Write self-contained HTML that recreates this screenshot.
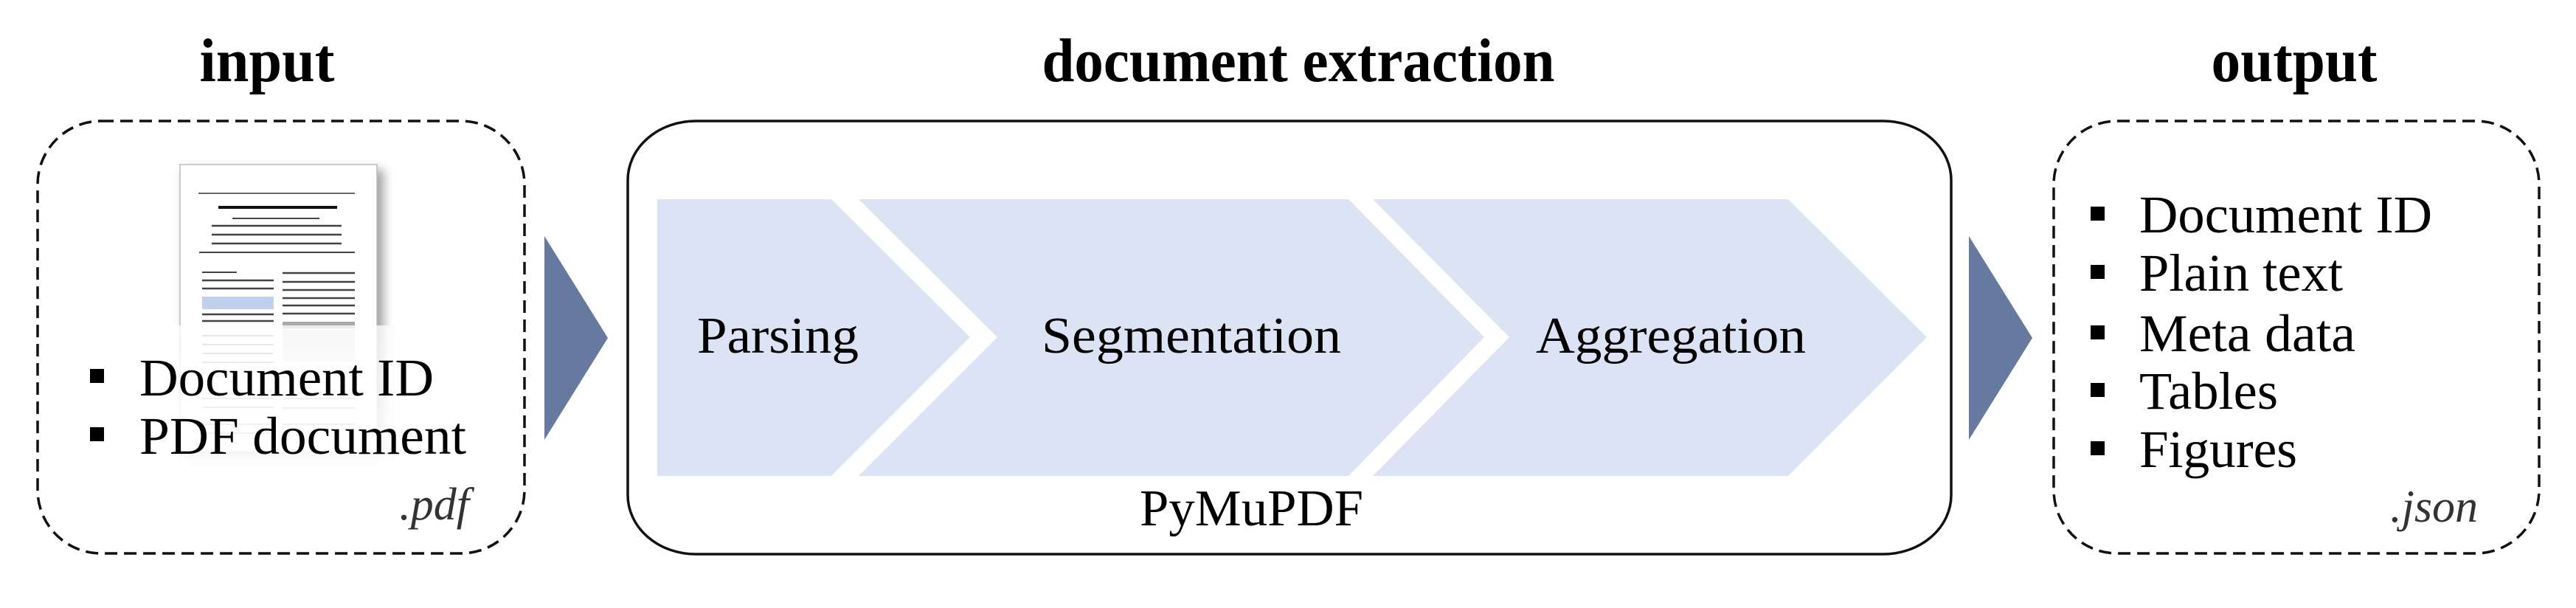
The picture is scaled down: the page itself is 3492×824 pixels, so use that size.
<!DOCTYPE html>
<html><head><meta charset="utf-8"><style>html,body{margin:0;padding:0;background:#fff}svg{display:block}</style></head>
<body>
<svg width="3492" height="824" viewBox="0 0 3492 824" xmlns="http://www.w3.org/2000/svg" font-family="'Liberation Serif', serif">
<defs>
<filter id="sh" x="-20%" y="-20%" width="150%" height="150%"><feGaussianBlur stdDeviation="7"/></filter>
<linearGradient id="fade" x1="0" y1="0" x2="0" y2="1"><stop offset="0" stop-color="#fff" stop-opacity="0.75"/><stop offset="1" stop-color="#fff" stop-opacity="0.92"/></linearGradient>
</defs>
<!-- titles -->
<text x="362" y="110" font-size="84" font-weight="bold" text-anchor="middle" textLength="183" lengthAdjust="spacingAndGlyphs">input</text>
<text x="1760" y="110" font-size="84" font-weight="bold" text-anchor="middle" textLength="695" lengthAdjust="spacingAndGlyphs">document extraction</text>
<text x="3110" y="110" font-size="84" font-weight="bold" text-anchor="middle" textLength="225" lengthAdjust="spacingAndGlyphs">output</text>

<!-- input box -->
<rect x="51" y="164" width="660" height="586" rx="86" ry="86" fill="none" stroke="#111" stroke-width="3.5" stroke-dasharray="17 9"/>
<!-- document icon -->
<rect x="250" y="230" width="270" height="390" fill="#888" filter="url(#sh)" opacity="0.8"/>
<rect x="244" y="223" width="267" height="389" fill="#fff" stroke="#bbb" stroke-width="1.5"/>
<g stroke="#444">
<line x1="269" y1="262" x2="481" y2="262" stroke-width="2" stroke="#666"/>
<line x1="296" y1="281" x2="457" y2="281" stroke-width="4" stroke="#111"/>
<line x1="315" y1="296" x2="433" y2="296" stroke-width="2"/>
<line x1="287" y1="306" x2="463" y2="306" stroke-width="2.5"/>
<line x1="287" y1="318" x2="463" y2="318" stroke-width="2.5"/>
<line x1="287" y1="330" x2="463" y2="330" stroke-width="2.5"/>
<line x1="270" y1="342" x2="481" y2="342" stroke-width="2"/>
<line x1="274" y1="369" x2="321" y2="369" stroke-width="2"/>
<line x1="274" y1="380" x2="371" y2="380" stroke-width="2.5"/>
<line x1="274" y1="391" x2="371" y2="391" stroke-width="2.5"/>
<line x1="274" y1="426" x2="371" y2="426" stroke-width="2.5"/>
<line x1="274" y1="435" x2="371" y2="435" stroke-width="2.5"/>
<line x1="383" y1="370" x2="481" y2="370" stroke-width="2.5"/>
<line x1="383" y1="382" x2="481" y2="382" stroke-width="2.5"/>
<line x1="383" y1="393" x2="481" y2="393" stroke-width="2.5"/>
<line x1="383" y1="404" x2="481" y2="404" stroke-width="2.5"/>
<line x1="383" y1="414" x2="481" y2="414" stroke-width="2.5"/>
<line x1="383" y1="425" x2="481" y2="425" stroke-width="2.5"/>
<g stroke="#999" stroke-width="2">
<line x1="274" y1="455" x2="371" y2="455"/><line x1="274" y1="467" x2="371" y2="467"/><line x1="274" y1="479" x2="371" y2="479"/><line x1="274" y1="491" x2="371" y2="491"/><line x1="274" y1="540" x2="371" y2="540"/><line x1="274" y1="552" x2="371" y2="552"/><line x1="274" y1="575" x2="371" y2="575"/><line x1="274" y1="587" x2="371" y2="587"/>
<line x1="383" y1="540" x2="481" y2="540"/><line x1="383" y1="553" x2="481" y2="553"/><line x1="383" y1="575" x2="481" y2="575"/>
</g>
</g>
<rect x="274" y="402" width="97" height="17" fill="#c0d0ec"/>
<rect x="383" y="436" width="98" height="9" fill="#aaa"/>
<rect x="383" y="445" width="98" height="45" fill="#e6e6e6"/>
<rect x="230" y="441" width="300" height="200" fill="url(#fade)"/>
<!-- input bullets -->
<rect x="122" y="500" width="19" height="19" fill="#000"/>
<rect x="122" y="579" width="19" height="19" fill="#000"/>
<text x="189" y="536" font-size="72" textLength="399" lengthAdjust="spacingAndGlyphs">Document ID</text>
<text x="189" y="615" font-size="72" textLength="443" lengthAdjust="spacingAndGlyphs">PDF document</text>
<text x="636" y="704" font-size="62" font-style="italic" text-anchor="end" fill="#333">.pdf</text>

<!-- arrows -->
<polygon points="738,320 824,458 738,596" fill="#66799f"/>
<polygon points="2669,320 2755,458 2669,596" fill="#66799f"/>

<!-- center box -->
<rect x="851" y="164" width="1794" height="587" rx="92" ry="80" fill="none" stroke="#111" stroke-width="3.5"/>
<polygon points="891,270 1127,270 1315,457 1127,645 891,645" fill="#dce3f4"/>
<polygon points="1164,270 1828,270 2012,457 1828,645 1164,645 1352,457" fill="#dce3f4"/>
<polygon points="1861,270 2424,270 2612,457 2424,645 1861,645 2046,457" fill="#dce3f4"/>
<text x="945" y="478" font-size="70" textLength="219" lengthAdjust="spacingAndGlyphs">Parsing</text>
<text x="1412" y="478" font-size="70" textLength="406" lengthAdjust="spacingAndGlyphs">Segmentation</text>
<text x="2082" y="478" font-size="70" textLength="366" lengthAdjust="spacingAndGlyphs">Aggregation</text>
<text x="1545" y="712" font-size="70" textLength="303" lengthAdjust="spacingAndGlyphs">PyMuPDF</text>

<!-- output box -->
<rect x="2784" y="164" width="658" height="586" rx="86" ry="86" fill="none" stroke="#111" stroke-width="3.5" stroke-dasharray="17 9"/>
<g fill="#000">
<rect x="2834" y="280" width="19" height="19"/>
<rect x="2834" y="359" width="19" height="19"/>
<rect x="2834" y="441" width="19" height="19"/>
<rect x="2834" y="519" width="19" height="19"/>
<rect x="2834" y="598" width="19" height="19"/>
</g>
<text x="2900" y="315" font-size="72" textLength="397" lengthAdjust="spacingAndGlyphs">Document ID</text>
<text x="2900" y="394" font-size="72" textLength="276" lengthAdjust="spacingAndGlyphs">Plain text</text>
<text x="2900" y="476" font-size="72" textLength="293" lengthAdjust="spacingAndGlyphs">Meta data</text>
<text x="2900" y="554" font-size="72" textLength="188" lengthAdjust="spacingAndGlyphs">Tables</text>
<text x="2900" y="633" font-size="72" textLength="214" lengthAdjust="spacingAndGlyphs">Figures</text>
<text x="3359" y="707" font-size="62" font-style="italic" text-anchor="end" fill="#333">.json</text>
</svg>
</body></html>
